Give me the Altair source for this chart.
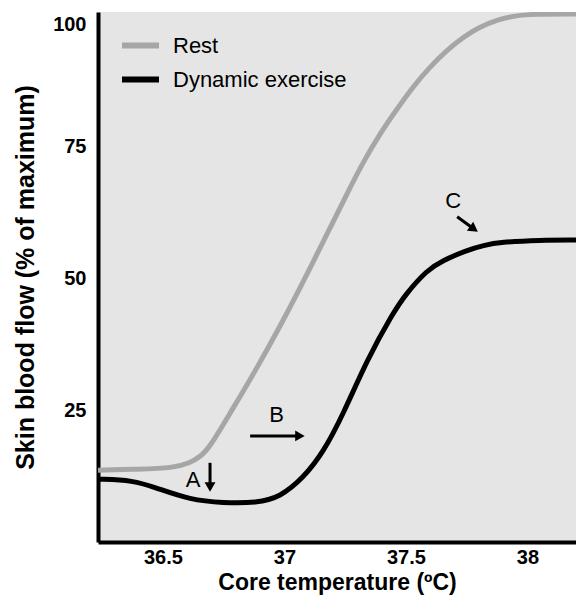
import altair as alt
import pandas as pd

# Rest curve (grey)
rest_x = [36.233, 36.40, 36.542, 36.612, 36.653, 36.694, 36.776, 36.846, 36.982, 37.118,
          37.188, 37.258, 37.324, 37.40, 37.463, 37.53, 37.599, 37.67, 37.735, 37.80,
          37.875, 37.95, 38.02, 38.2]
rest_y = [13.6, 13.8, 14.0, 15.0, 16.1, 18.0, 24.4, 29.7, 40.7, 53.0,
          59.5, 66.0, 72.0, 77.8, 82.0, 86.3, 90.0, 93.2, 95.6, 97.5,
          98.9, 99.7, 100.0, 100.0]

# Dynamic exercise curve (black)
ex_x = [36.233, 36.377, 36.476, 36.612, 36.747, 36.887, 36.982, 37.077, 37.159, 37.241,
        37.340, 37.447, 37.50, 37.587, 37.65, 37.752, 37.82, 37.888, 38.052, 38.2]
ex_y = [11.9, 11.7, 10.2, 8.0, 7.4, 7.4, 8.5, 12.1, 16.9, 24.1,
        34.5, 43.4, 47.0, 51.5, 53.3, 55.3, 56.2, 56.8, 57.2, 57.2]

series_names = ["Rest", "Dynamic exercise"]
series_colors = ["#a6a6a6", "#000000"]

# Annotation labels
label_text = ["A", "B", "C"]
label_x = [36.624, 36.968, 37.695]
label_y = [11.7, 24.0, 64.6]

# Arrow shafts (start -> head centre) and head angles
arrow_x = [36.694, 36.859, 37.711]
arrow_y = [15.0, 20.1, 61.6]
arrow_x2 = [36.694, 37.064, 37.780]
arrow_y2 = [10.4, 20.1, 59.3]
arrow_angle = [90, 0, 35]

x_ticks = [36.5, 37, 37.5, 38]
y_ticks = [25, 50, 75, 100]

FONT = "Liberation Sans"

curves = pd.concat([
    pd.DataFrame({"x": rest_x, "y": rest_y, "series": "Rest", "ord": 0}),
    pd.DataFrame({"x": ex_x, "y": ex_y, "series": "Dynamic exercise", "ord": 1}),
])
labels = pd.DataFrame({"x": label_x, "y": label_y, "t": label_text})
shafts = pd.DataFrame({"x": arrow_x, "y": arrow_y, "x2": arrow_x2, "y2": arrow_y2})
heads = pd.DataFrame({"x": arrow_x2, "y": arrow_y2, "angle": arrow_angle})

x_scale = alt.Scale(domain=[36.233, 38.2], nice=False, zero=False)
y_scale = alt.Scale(domain=[0, 100.4], nice=False, zero=False)

x_axis = alt.Axis(values=x_ticks, format=".1~f", title="Core temperature (ºC)",
                  labelPadding=5, titlePadding=4)
y_axis = alt.Axis(values=y_ticks, title="Skin blood flow (% of maximum)",
                  labelPadding=12, titlePadding=14,
                  labelOffset={"condition": {"test": "datum.value >= 100", "value": 10},
                               "value": 0})

lines = alt.Chart(curves).mark_line(strokeWidth=5, interpolate="basis", clip=True).encode(
    x=alt.X("x:Q", scale=x_scale, axis=x_axis),
    y=alt.Y("y:Q", scale=y_scale, axis=y_axis),
    color=alt.Color("series:N",
                    scale=alt.Scale(domain=series_names, range=series_colors),
                    legend=alt.Legend(title=None, orient="none", legendX=21, legendY=12,
                                      symbolType="stroke", symbolSize=1369,
                                      symbolStrokeWidth=6, labelFontSize=22,
                                      labelFont=FONT, labelOffset=11, rowPadding=0,
                                      labelLimit=400,
                                      padding=0, fillColor="transparent",
                                      strokeColor="transparent")),
    order=alt.Order("ord:Q"),
)

shaft_layer = alt.Chart(shafts).mark_rule(strokeWidth=3, color="black").encode(
    x="x:Q", y="y:Q", x2="x2:Q", y2="y2:Q"
)
head_layer = alt.Chart(heads).mark_point(shape="triangle-right", filled=True, size=120,
                                         color="black", opacity=1).encode(
    x="x:Q", y="y:Q", angle=alt.Angle("angle:Q", scale=None)
)
text_layer = alt.Chart(labels).mark_text(font=FONT, fontSize=22, color="black",
                                         align="center", baseline="middle").encode(
    x="x:Q", y="y:Q", text="t:N"
)

chart = alt.layer(lines, shaft_layer, head_layer, text_layer).properties(
    width=478, height=530,
    autosize=alt.AutoSizeParams(type="none"),
    padding={"left": 98, "top": 12, "right": 0, "bottom": 67},
    background="white",
).configure_view(
    fill="#e5e5e5", stroke=None
).configure_axis(
    domainColor="black", domainWidth=4, ticks=False, tickSize=0, grid=False,
    labelFont=FONT, labelFontSize=20, labelFontWeight="bold", labelColor="black",
    titleFont=FONT, titleFontSize=23, titleFontWeight="bold", titleColor="black",
).configure_axisY(
    titleFontSize=25
)

chart.save("out.html", embed_options={"renderer": "svg", "actions": False})
